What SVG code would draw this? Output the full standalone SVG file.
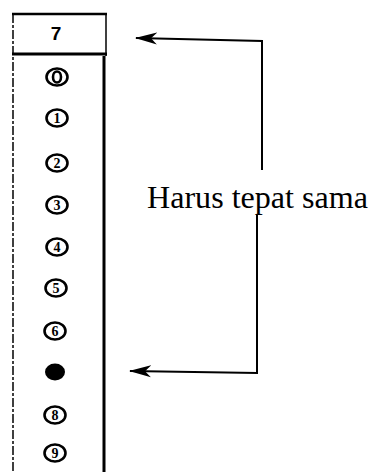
<svg xmlns="http://www.w3.org/2000/svg" width="372" height="472" viewBox="0 0 372 472">
<style>
.frame{stroke:#000;fill:none}
.c{fill:none;stroke:#000;stroke-width:2.6}
.d{font-family:"Liberation Serif",serif;font-size:14px;font-weight:bold;text-anchor:middle;fill:#000}
.conn{fill:none;stroke:#000;stroke-width:2}
.lbl{font-family:"Liberation Serif",serif;font-size:31px;fill:#000}
</style>
<defs>
<marker id="ah" markerWidth="22" markerHeight="14" refX="21" refY="7" orient="auto" markerUnits="userSpaceOnUse">
<path d="M22,7 L0,1 L6,7 L0,13 Z" fill="#000"/>
</marker>
</defs>
<rect width="372" height="472" fill="#fff"/>
<g id="card">
<line class="frame" x1="13" y1="14" x2="13" y2="472" stroke-width="1.5" stroke-dasharray="9,2,3,2"/>
<line class="frame" x1="12" y1="14" x2="107" y2="14" stroke-width="2.5"/>
<line class="frame" x1="106" y1="13" x2="106" y2="56" stroke-width="1.5"/>
<line class="frame" x1="104" y1="56" x2="104" y2="472" stroke-width="3"/>
<line class="frame" x1="12" y1="54" x2="107" y2="54" stroke-width="3"/>
<text x="56" y="40" font-family="Liberation Sans,sans-serif" font-weight="bold" font-size="19" text-anchor="middle">7</text>
</g>
<g id="d0"><ellipse class="c" cx="57" cy="77" rx="10.5" ry="8.5"/><ellipse class="c" cx="57" cy="77" rx="4" ry="5.5" stroke-width="2"/></g>
<g id="d1"><ellipse class="c" cx="57" cy="118" rx="10.5" ry="8.5"/><text class="d" x="57" y="123">1</text></g>
<g id="d2"><ellipse class="c" cx="57" cy="163" rx="10.5" ry="8.5"/><text class="d" x="57" y="168">2</text></g>
<g id="d3"><ellipse class="c" cx="57" cy="205" rx="10.5" ry="8.5"/><text class="d" x="57" y="210">3</text></g>
<g id="d4"><ellipse class="c" cx="57" cy="247" rx="10.5" ry="8.5"/><text class="d" x="57" y="252">4</text></g>
<g id="d5"><ellipse class="c" cx="56" cy="288" rx="10.5" ry="8.5"/><text class="d" x="56" y="293">5</text></g>
<g id="d6"><ellipse class="c" cx="55" cy="331" rx="10.5" ry="8.5"/><text class="d" x="55" y="336">6</text></g>
<g id="d7"><ellipse cx="55" cy="372" rx="10" ry="8.5" fill="#000"/></g>
<g id="d8"><ellipse class="c" cx="55" cy="415" rx="10.5" ry="8.5"/><text class="d" x="55" y="420">8</text></g>
<g id="d9"><ellipse class="c" cx="55" cy="453" rx="10.5" ry="8.5"/><text class="d" x="55" y="458">9</text></g>
<g id="label"><text class="lbl" x="147" y="208" textLength="221" lengthAdjust="spacingAndGlyphs">Harus tepat sama</text></g>
<g id="connectors">
<polyline class="conn" points="262,170 262,41 136,38" marker-end="url(#ah)"/>
<polyline class="conn" points="257,214 257,373 130,371" marker-end="url(#ah)"/>
</g>
</svg>
